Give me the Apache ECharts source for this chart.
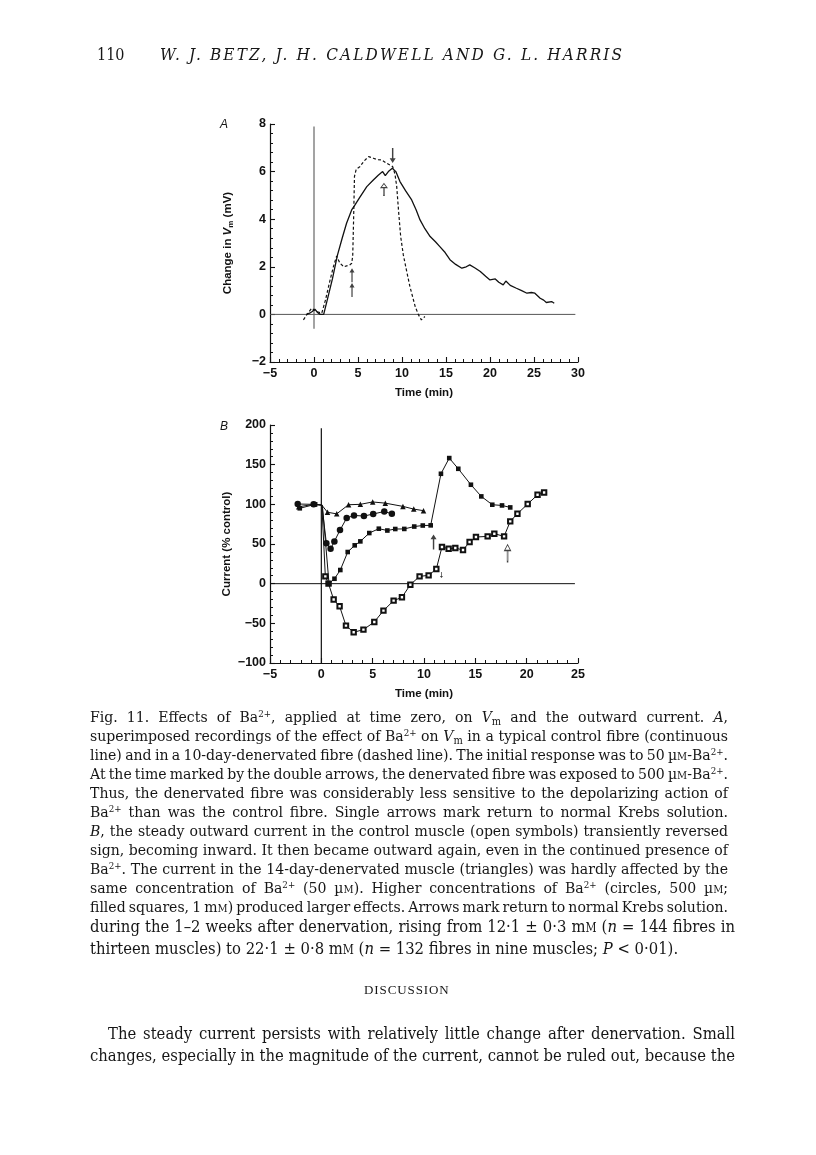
<!DOCTYPE html>
<html>
<head>
<meta charset="utf-8">
<script src="https://cdn.jsdelivr.net/npm/echarts@6/dist/echarts.min.js"></script>
<style>
  html,body{margin:0;padding:0;background:#fff;}
  #page{position:relative;width:816px;height:1155px;overflow:hidden;background:#fff;}
  #chart{position:absolute;left:0;top:0;width:816px;height:1155px;}
  .t{position:absolute;white-space:nowrap;color:#161616;font-family:"DejaVu Serif Condensed","DejaVu Serif",serif;font-stretch:condensed;}
  .cap{font-size:14px;line-height:19px;}
  .body{font-size:15.5px;line-height:22px;}
  sup{font-size:0.62em;line-height:0;vertical-align:0.55em;}
  sub{font-size:0.7em;line-height:0;vertical-align:-0.25em;}
  .sc{font-variant:small-caps;}
  .pl{position:absolute;font-family:"Liberation Sans",Arial,sans-serif;font-style:italic;font-size:12px;color:#161616;}
</style>
</head>
<body>
<div id="page">
  <div id="chart"></div>

  <div class="t" style="left:97px;top:45px;font-size:16px;">110</div>
  <div class="t" id="authors" data-w="462" style="left:160px;top:44px;font-size:17px;font-style:italic;">W. J. BETZ, J. H. CALDWELL AND G. L. HARRIS</div>

  <div class="pl" style="left:220px;top:117px;">A</div>
  <div class="pl" style="left:220px;top:419px;">B</div>

  <div class="t cap jl" data-w="638" style="left:90px;top:707px;">Fig. 11. Effects of Ba<sup>2+</sup>, applied at time zero, on <i>V</i><sub>m</sub> and the outward current. <i>A</i>,</div>
  <div class="t cap jl" data-w="638" style="left:90px;top:726px;">superimposed recordings of the effect of Ba<sup>2+</sup> on <i>V</i><sub>m</sub> in a typical control fibre (continuous</div>
  <div class="t cap jl" data-w="638" style="left:90px;top:745px;">line) and in a 10-day-denervated fibre (dashed line). The initial response was to 50 µ<span class="sc">m</span>-Ba<sup>2+</sup>.</div>
  <div class="t cap jl" data-w="638" style="left:90px;top:764px;">At the time marked by the double arrows, the denervated fibre was exposed to 500 µ<span class="sc">m</span>-Ba<sup>2+</sup>.</div>
  <div class="t cap jl" data-w="638" style="left:90px;top:783px;">Thus, the denervated fibre was considerably less sensitive to the depolarizing action of</div>
  <div class="t cap jl" data-w="638" style="left:90px;top:802px;">Ba<sup>2+</sup> than was the control fibre. Single arrows mark return to normal Krebs solution.</div>
  <div class="t cap jl" data-w="638" style="left:90px;top:821px;"><i>B</i>, the steady outward current in the control muscle (open symbols) transiently reversed</div>
  <div class="t cap jl" data-w="638" style="left:90px;top:840px;">sign, becoming inward. It then became outward again, even in the continued presence of</div>
  <div class="t cap jl" data-w="638" style="left:90px;top:859px;">Ba<sup>2+</sup>. The current in the 14-day-denervated muscle (triangles) was hardly affected by the</div>
  <div class="t cap jl" data-w="638" style="left:90px;top:878px;">same concentration of Ba<sup>2+</sup> (50 µ<span class="sc">m</span>). Higher concentrations of Ba<sup>2+</sup> (circles, 500 µ<span class="sc">m</span>;</div>
  <div class="t cap jl" data-w="638" style="left:90px;top:897px;">filled squares, 1 m<span class="sc">m</span>) produced larger effects. Arrows mark return to normal Krebs solution.</div>

  <div class="t body jl" data-w="645" style="left:90px;top:916px;">during the 1–2 weeks after denervation, rising from 12·1 ± 0·3 m<span class="sc">m</span> (<i>n</i> = 144 fibres in</div>
  <div class="t body" style="left:90px;top:938px;">thirteen muscles) to 22·1 ± 0·8 m<span class="sc">m</span> (<i>n</i> = 132 fibres in nine muscles; <i>P</i> &lt; 0·01).</div>

  <div class="t" style="left:364px;top:982px;letter-spacing:0.9px;font-family:'Liberation Serif',serif;font-size:13px;">DISCUSSION</div>

  <div class="t body jl" data-w="627" style="left:108px;top:1023px;">The steady current persists with relatively little change after denervation. Small</div>
  <div class="t body jl" data-w="645" style="left:90px;top:1045px;">changes, especially in the magnitude of the current, cannot be ruled out, because the</div>
</div>

<script>
// ---------- Panel A: change in Vm (mV) vs time (min) ----------
const tA_control = [-0.85,-0.5,-0.2,0.1,0.4,0.7,1.1,1.6,2.1,2.65,3.2,3.7,4.28,4.66,5.2,6.0,6.74,7.3,7.8,8.1,8.45,8.9,9.3,9.77,10.4,11.1,11.6,12.05,12.6,13.2,13.8,14.3,14.9,15.45,16.1,16.8,17.3,17.7,18.3,18.9,19.5,20.0,20.6,21.0,21.5,21.8,22.3,23.0,23.6,24.2,24.7,25.1,25.7,26.1,26.4,27.0,27.3];
const vA_control = [0,0.05,0.12,0.22,0.08,0,0,0.75,1.5,2.47,3.2,3.83,4.39,4.6,4.92,5.37,5.65,5.85,6.0,5.83,6.0,6.14,6.0,5.58,5.2,4.81,4.4,3.97,3.6,3.27,3.05,2.85,2.6,2.3,2.1,1.94,2.0,2.08,1.95,1.8,1.6,1.45,1.49,1.35,1.24,1.4,1.22,1.1,1.0,0.89,0.92,0.89,0.68,0.6,0.5,0.54,0.47];

const tA_denerv = [-1.2,-0.8,-0.26,0.3,0.88,1.3,1.8,2.2,2.57,2.95,3.4,3.7,4.0,4.28,4.4,4.5,4.6,4.8,5.2,5.7,6.2,6.74,7.2,7.7,8.26,8.94,9.2,9.4,9.6,9.85,10.15,10.5,10.9,11.5,11.85,12.2,12.6];
const vA_denerv = [-0.23,0,0.26,0.12,0.05,0.6,1.4,2.0,2.45,2.15,2.0,2.04,2.05,2.15,2.45,4.0,5.8,6.1,6.2,6.45,6.63,6.56,6.5,6.49,6.35,6.21,5.9,5.37,4.39,3.27,2.5,1.87,1.17,0.33,0,-0.23,-0.09];

// reference lines (time zero and zero change)
const refA_zeroV = [[-5,0],[29.7,0]];
const refA_zeroT = [[0,7.9],[0,-0.6]];
// arrows [time, value at arrow centre]
const arrowsA_down = [[8.94,6.68]];
const arrowsA_open = [[7.95,5.25]];
const arrowsA_double = [[4.32,1.65],[4.32,1.02]];

// ---------- Panel B: current (% control) vs time (min) ----------
const tB_tri  = [-2.2,-0.7,0.05,0.6,1.5,2.65,3.8,5.0,6.23,7.95,9.0,9.95];
const vB_tri  = [97,100,99,90,88,99.5,100,103,101.5,97.4,94,92];

const tB_circ = [-2.3,-0.75,0.05,0.49,0.9,1.27,1.82,2.47,3.18,4.15,5.05,6.13,6.87];
const vB_circ = [100.4,100,99,51,44,53.3,67.5,82.7,86,85.2,87.8,91,88];

const tB_fsq  = [-2.1,-0.6,0.1,0.75,1.28,1.85,2.57,3.25,3.8,4.67,5.6,6.43,7.2,8.08,9.05,9.88,10.65,11.65,12.46,13.34,14.57,15.58,16.65,17.6,18.4];
const vB_fsq  = [95,100,99,0,6.2,17.2,39.9,48.3,53.3,63.8,69.3,67,68.9,69,72,73.3,73.5,138.5,158.3,144.8,124.7,110,99.5,98.6,96.1];

const tB_open = [0.05,0.39,0.7,1.2,1.78,2.4,3.15,4.1,5.16,6.05,7.04,7.85,8.67,9.57,10.45,11.2,11.75,12.4,13.05,13.8,14.44,15.06,16.2,16.85,17.8,18.4,19.1,20.1,21.06,21.7];
const vB_open = [99,9.2,0,-20,-28.5,-52.9,-61.3,-57.9,-48.3,-34,-21.4,-17.2,-1.3,9.2,10.5,18.5,46.2,44,44.9,42.4,52.5,58.8,59.6,63,59.6,78.5,88.2,100.4,112,115];

const refB_zeroV = [[-5,0],[24.7,0]];
const refB_zeroT = [[0,196],[0,-100]];
const arrowsB_filled = [[10.93,52.5]];
const arrowsB_open = [[18.14,38.5]];
const arrowsB_tiny = [[11.7,11]];

// axis ranges [min, max, interval]
const xRangeA = [-5,30,5], yRangeA = [-2,8,2];
const xRangeB = [-5,25,5], yRangeB = [-100,200,50];

// ---------------------------------------------------------------
const pairs = (ts, vs, hideIdx) => ts.map((t,i) => hideIdx && hideIdx.indexOf(i) >= 0 ? {value:[t,vs[i]], symbol:'none'} : [t, vs[i]]);
const INK = '#111';
const FONT = '"Liberation Sans", Arial, sans-serif';
const minusFmt = v => String(v).replace('-', '\u2212');

function xAxis(gi, r, nameGap) {
  return {
    type:'value', gridIndex:gi, min:r[0], max:r[1], interval:r[2],
    name:'Time (min)', nameLocation:'middle', nameGap:nameGap,
    nameTextStyle:{fontFamily:FONT, fontSize:11.5, fontWeight:'bold', color:INK},
    axisLine:{onZero:false, lineStyle:{color:INK, width:1.2}},
    axisTick:{inside:true, length:5, lineStyle:{color:INK, width:1.1}},
    minorTick:{show:true, splitNumber:5, length:3, lineStyle:{color:INK, width:1}},
    splitLine:{show:false}, minorSplitLine:{show:false},
    axisLabel:{formatter:minusFmt, fontFamily:FONT, fontSize:12.5, fontWeight:'bold', color:INK, margin:5}
  };
}
function yAxis(gi, r, name, rich) {
  return {
    type:'value', gridIndex:gi, min:r[0], max:r[1], interval:r[2],
    name:name, nameLocation:'middle', nameGap:35, nameRotate:90,
    nameTextStyle:{fontFamily:FONT, fontSize:11.5, fontWeight:'bold', color:INK, lineHeight:14, rich:rich},
    axisLine:{onZero:false, lineStyle:{color:INK, width:1.2}},
    axisTick:{inside:true, length:5, lineStyle:{color:INK, width:1.1}},
    minorTick:{show:true, splitNumber:5, length:3, lineStyle:{color:INK, width:1}},
    splitLine:{show:false}, minorSplitLine:{show:false},
    axisLabel:{formatter:minusFmt, fontFamily:FONT, fontSize:12.5, fontWeight:'bold', color:INK, margin:4}
  };
}
const richVm = {
  n:{fontFamily:FONT, fontSize:11.5, fontWeight:'bold', color:INK, lineHeight:14},
  i:{fontFamily:FONT, fontSize:11.5, fontWeight:'bold', fontStyle:'italic', color:INK, lineHeight:14},
  s:{fontFamily:FONT, fontSize:8, fontWeight:'bold', color:INK, lineHeight:8, verticalAlign:'bottom'}
};

const ARROW = 'path://M5,0 L10,10 L6.2,10 L6.2,32 L3.8,32 L3.8,10 L0,10 Z';
const OPEN_ARROW = 'path://M5,0 L10,11 L0,11 Z M4.2,11 L5.8,11 L5.8,32 L4.2,32 Z';

function refLine(xi, yi, data, color, w) {
  return {type:'line', xAxisIndex:xi, yAxisIndex:yi, data:data, showSymbol:false, symbol:'none',
          lineStyle:{color:color, width:w}, silent:true, z:1};
}
function arrowSeries(xi, yi, data, sym, size, rot, filled) {
  return {type:'scatter', xAxisIndex:xi, yAxisIndex:yi, data:data, symbol:sym, symbolSize:size,
          symbolRotate:rot, symbolKeepAspect:false, silent:true, z:5,
          itemStyle: filled ? {color:INK} : {color:'#fff', borderColor:INK, borderWidth:0.9}};
}

const chart = echarts.init(document.getElementById('chart'), null, {renderer:'canvas'});
chart.setOption({
  animation:false,
  backgroundColor:'transparent',
  grid:[
    {left:270, top:124, width:308, height:238},
    {left:270, top:425, width:308, height:238}
  ],
  xAxis:[ xAxis(0, xRangeA, 25), xAxis(1, xRangeB, 25) ],
  yAxis:[
    yAxis(0, yRangeA, '{n|Change in }{i|V}{s|m}{n| (mV)}', richVm),
    yAxis(1, yRangeB, 'Current (% control)', null)
  ],
  series:[
    refLine(0,0, refA_zeroV, '#555', 1),
    refLine(0,0, refA_zeroT, '#666', 1.2),
    {type:'line', xAxisIndex:0, yAxisIndex:0, data:pairs(tA_control, vA_control), showSymbol:false, symbol:'none',
     lineStyle:{color:INK, width:1.3}, z:3},
    {type:'line', xAxisIndex:0, yAxisIndex:0, data:pairs(tA_denerv, vA_denerv), showSymbol:false, symbol:'none',
     lineStyle:{color:INK, width:1.2, type:[3,2.2]}, z:3},
    arrowSeries(0,0, arrowsA_down, ARROW, [6,15], 180, true),
    arrowSeries(0,0, arrowsA_open, OPEN_ARROW, [6,12], 0, false),
    arrowSeries(0,0, arrowsA_double, ARROW, [5,14], 0, true),

    refLine(1,1, refB_zeroV, INK, 1),
    refLine(1,1, refB_zeroT, INK, 1.2),
    {type:'line', xAxisIndex:1, yAxisIndex:1, data:pairs(tB_open, vB_open, [0]), symbol:'emptyRect', symbolSize:4.4,
     lineStyle:{color:INK, width:1}, itemStyle:{color:INK, borderWidth:0.9}, z:3},
    {type:'line', xAxisIndex:1, yAxisIndex:1, data:pairs(tB_fsq, vB_fsq, [2]), symbol:'rect', symbolSize:4.6,
     lineStyle:{color:INK, width:1}, itemStyle:{color:INK}, z:4},
    {type:'line', xAxisIndex:1, yAxisIndex:1, data:pairs(tB_tri, vB_tri, [2]), symbol:'triangle', symbolSize:5.5,
     lineStyle:{color:INK, width:1}, itemStyle:{color:INK}, z:4},
    {type:'line', xAxisIndex:1, yAxisIndex:1, data:pairs(tB_circ, vB_circ, [2]), symbol:'circle', symbolSize:6.5,
     lineStyle:{color:INK, width:1}, itemStyle:{color:INK}, z:4},
    arrowSeries(1,1, arrowsB_filled, ARROW, [6,15], 0, true),
    arrowSeries(1,1, arrowsB_open, OPEN_ARROW, [6,17], 0, false),
    arrowSeries(1,1, arrowsB_tiny, ARROW, [3,6], 180, true)
  ]
});

// ---- text fitting: common font size per group, then justify each line ----
function fitGroup(sel, extraSel) {
  const els = Array.from(document.querySelectorAll(sel));
  const fits = els.map(el => {
    el.style.wordSpacing = '0px';
    const fs = parseFloat(getComputedStyle(el).fontSize);
    const w = el.getBoundingClientRect().width;
    return fs * parseFloat(el.dataset.w) / w;
  }).sort((a,b) => a-b);
  const size = fits[Math.floor(fits.length * 0.3)];
  const all = els.concat(extraSel ? Array.from(document.querySelectorAll(extraSel)) : []);
  all.forEach(el => { el.style.fontSize = size + 'px'; });
  els.forEach(el => {
    const w = el.getBoundingClientRect().width;
    const n = (el.textContent.match(/ /g) || []).length;
    if (n > 0) el.style.wordSpacing = ((parseFloat(el.dataset.w) - w) / n) + 'px';
  });
}
fitGroup('.cap.jl');
fitGroup('.body.jl', '.body:not(.jl)');
(function(){
  const el = document.getElementById('authors');
  const w = el.getBoundingClientRect().width;
  const n = el.textContent.length - 1;
  el.style.letterSpacing = ((parseFloat(el.dataset.w) - w) / n) + 'px';
})();
</script>
</body>
</html>
